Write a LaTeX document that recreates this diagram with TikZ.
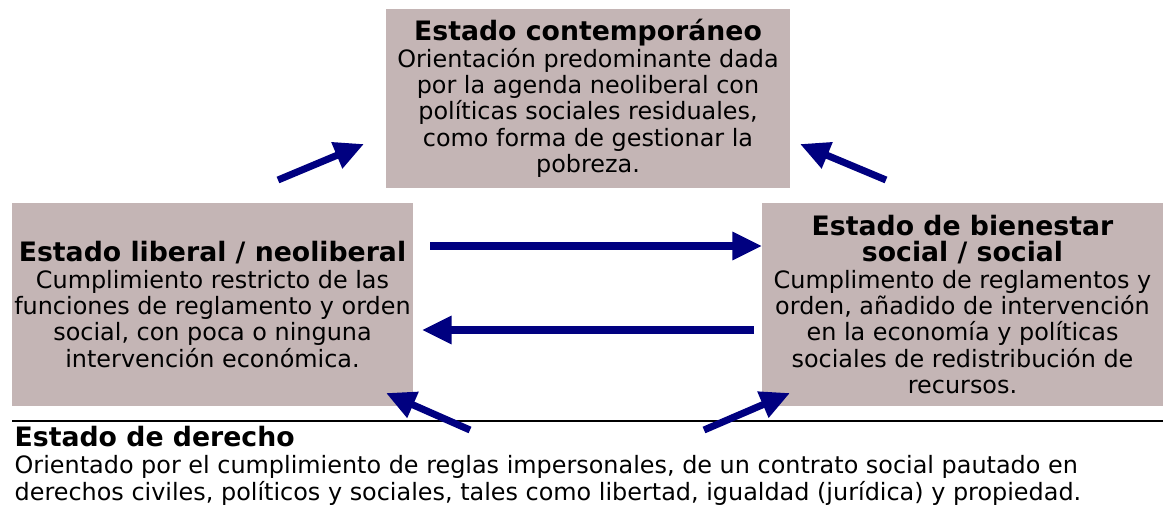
\documentclass[tikz,border=0pt]{standalone}
\usepackage{fontspec}
\setmainfont{DejaVu Sans}
\usepackage{tikz}
\definecolor{rosagris}{HTML}{C4B5B5}
\definecolor{azulmarino}{HTML}{000080}
\usetikzlibrary{arrows.meta}
\tikzstyle{estado}=[rectangle, fill=rosagris, align=center, inner sep=0pt, font=\fontsize{17}{18.7}\selectfont]
\tikzstyle{flecha}=[draw=azulmarino, line width=5pt, -{Triangle[length=21pt,width=19pt]}]
\newcommand{\titulo}[1]{{\fontsize{19}{18.7}\selectfont\bfseries #1}}

\begin{document}
\begin{tikzpicture}
	\useasboundingbox (0,0) rectangle (29.075,12.75);
	\node[estado, minimum width=10.1cm, minimum height=4.475cm] (cont) at (14.7,10.2875){\titulo{Estado contemporáneo}\\Orientación predominante dada\\por la agenda neoliberal con\\políticas sociales residuales,\\como forma de gestionar la\\pobreza.};
	\node[estado, minimum width=10.025cm, minimum height=5.075cm] (lib) at (5.3125,5.1375){\titulo{Estado liberal / neoliberal}\\Cumplimiento restricto de las\\funciones de reglamento y orden\\social, con poca o ninguna\\intervención económica.};
	\node[estado, minimum width=10.025cm, minimum height=5.075cm] (bien) at (24.0625,5.1375){\titulo{Estado de bienestar}\\\titulo{social / social}\\Cumplimento de reglamentos y\\orden, añadido de intervención\\en la economía y políticas\\sociales de redistribución de\\recursos.};
	\node[anchor=west, align=left, inner sep=0pt, font=\fontsize{17}{19}\selectfont] (der) at (0.36,1.1){\titulo{Estado de derecho}\\Orientado por el cumplimiento de reglas impersonales, de un contrato social pautado en\\derechos civiles, políticos y sociales, tales como libertad, igualdad (jurídica) y propiedad.};
	\coordinate (lin1) at (0.3,2.225);
	\coordinate (lin2) at (29.075,2.225);
	\coordinate (tl1) at (6.95,8.25);
	\coordinate (tl2) at (9.1,9.15);
	\coordinate (tr1) at (22.15,8.25);
	\coordinate (tr2) at (20.0,9.15);
	\coordinate (hr1) at (10.75,6.6);
	\coordinate (hr2) at (19.05,6.6);
	\coordinate (hl1) at (18.85,4.5);
	\coordinate (hl2) at (10.55,4.5);
	\coordinate (bl1) at (11.75,2.0);
	\coordinate (bl2) at (9.65,2.925);
	\coordinate (br1) at (17.6,2.0);
	\coordinate (br2) at (19.75,2.925);
	\path[draw=black, line width=0.8pt] (lin1) -- (lin2);
	\path[flecha] (tl1) -- (tl2);
	\path[flecha] (tr1) -- (tr2);
	\path[flecha] (hr1) -- (hr2);
	\path[flecha] (hl1) -- (hl2);
	\path[flecha] (bl1) -- (bl2);
	\path[flecha] (br1) -- (br2);
\end{tikzpicture}
\end{document}
